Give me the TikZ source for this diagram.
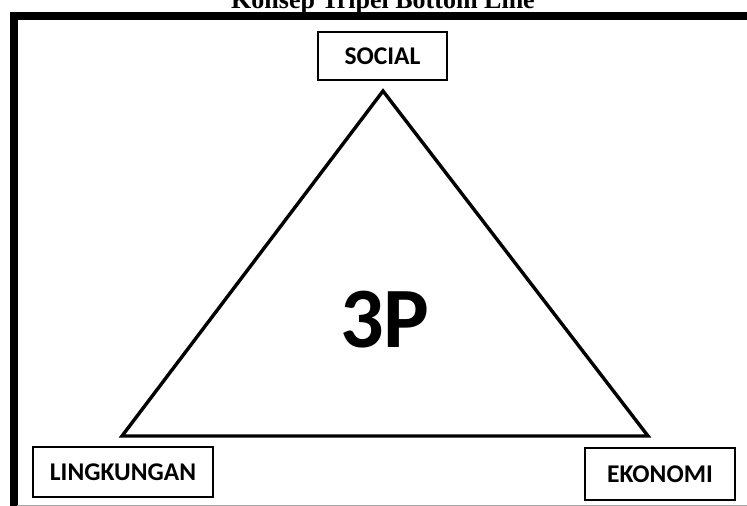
\documentclass[tikz,border=0pt]{standalone}
\usepackage{fontspec}
\setmainfont{Liberation Serif}
\newfontfamily\calib{Carlito}
\begin{document}
\begin{tikzpicture}[x=1pt,y=-1pt,
  lbl/.style={draw=black,line width=2.8pt,font=\calib\bfseries\fontsize{25.5}{28}\selectfont,inner sep=0pt,anchor=center},
  tri/.style={draw=black,line width=3.4pt,line join=miter}]
\useasboundingbox (0,0) rectangle (747,506);
\clip (0,0) rectangle (747,506);
\fill[white] (0,0) rectangle (747,506);
% title
\node[anchor=base,font=\bfseries\fontsize{26}{30}\selectfont,inner sep=0pt] (title) at (383,8.5) {Konsep Tripel Bottom Line};
% frame
\draw[line width=8pt] (13.5,520) -- (13.5,16) -- (760,16);
\draw[gray!70,line width=1pt] (17,505) -- (747,505);
% triangle
\coordinate (A) at (383,91);
\coordinate (B) at (122,436);
\coordinate (C) at (648,436);
\draw[tri] (A) -- (B) -- (C) -- cycle;
% boxes
\node[lbl,minimum width=129,minimum height=48] (social) at (382.5,56) {SOCIAL};
\node[lbl,minimum width=180,minimum height=50] (ling) at (123,472) {LINGKUNGAN};
\node[lbl,minimum width=150,minimum height=52] (eko) at (660,474) {EKONOMI};
% center
\node[font=\calib\bfseries\fontsize{86}{90}\selectfont,inner sep=0pt] (p3) at (385,320) {3P};
\end{tikzpicture}
\end{document}
